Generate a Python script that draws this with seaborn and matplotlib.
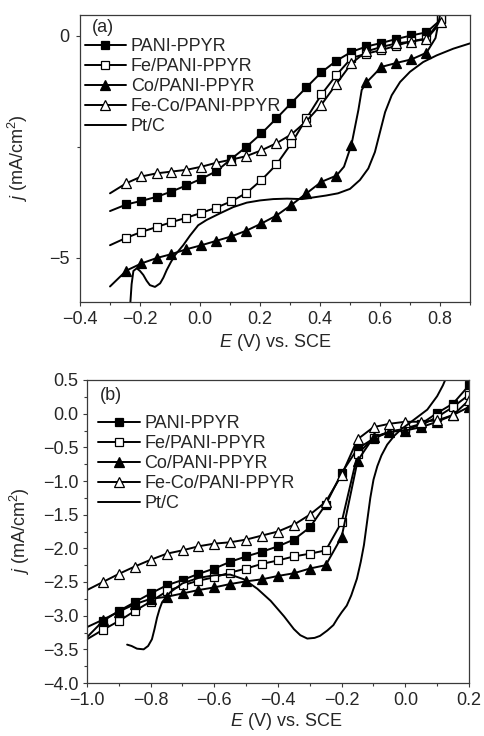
import numpy as np
import pandas as pd
import matplotlib
matplotlib.use("Agg")
import matplotlib.pyplot as plt
from matplotlib.ticker import MultipleLocator, FixedLocator, FuncFormatter
import seaborn as sns

# ---------------- panel (a) data ----------------
labels = ["PANI-PPYR", "Fe/PANI-PPYR", "Co/PANI-PPYR", "Fe-Co/PANI-PPYR", "Pt/C"]

a_grid = [-0.245, -0.195, -0.145, -0.095, -0.045, 0.005, 0.055, 0.105, 0.155,
          0.205, 0.255, 0.305, 0.355, 0.405, 0.455, 0.505, 0.555, 0.605,
          0.655, 0.705, 0.755, 0.805]

a_pani_E = [-0.30] + a_grid
a_pani_j = [-3.95, -3.80, -3.72, -3.63, -3.51, -3.37, -3.22, -3.05, -2.77, -2.50,
            -2.20, -1.86, -1.51, -1.16, -0.82, -0.56, -0.36, -0.24, -0.16,
            -0.07, 0.01, 0.08, 0.38]

a_fe_E = [-0.30] + a_grid
a_fe_j = [-4.72, -4.55, -4.42, -4.31, -4.20, -4.10, -3.99, -3.87, -3.73, -3.54,
          -3.25, -2.90, -2.42, -1.86, -1.32, -0.88, -0.50, -0.40, -0.32,
          -0.22, -0.12, -0.06, 0.38]

a_co_E = [-0.30, -0.245, -0.195, -0.145, -0.095, -0.045, 0.005, 0.055, 0.105,
          0.155, 0.205, 0.255, 0.305, 0.355, 0.405, 0.455, 0.48, 0.505, 0.528,
          0.539, 0.555, 0.605, 0.655, 0.705, 0.755, 0.785, 0.80]
a_co_j = [-5.65, -5.29, -5.13, -5.01, -4.92, -4.81, -4.72, -4.62, -4.52, -4.39,
          -4.23, -4.05, -3.81, -3.55, -3.29, -3.15, -2.95, -2.45, -1.67,
          -1.22, -1.05, -0.70, -0.61, -0.53, -0.38, -0.05, 0.47]

a_feco_E = [-0.30] + a_grid
a_feco_j = [-3.55, -3.32, -3.17, -3.10, -3.06, -3.02, -2.95, -2.86, -2.79, -2.71,
            -2.58, -2.42, -2.22, -1.92, -1.55, -1.08, -0.62, -0.35, -0.25,
            -0.17, -0.13, -0.07, 0.32]

a_pt_E = [-0.233, -0.228, -0.222, -0.211, -0.200, -0.189, -0.178, -0.167, -0.150,
          -0.133, -0.122, -0.111, -0.097, -0.083, -0.056, -0.033, -0.006, 0.022,
          0.067, 0.111, 0.156, 0.200, 0.244, 0.290, 0.340, 0.380, 0.420, 0.460,
          0.500, 0.533, 0.561, 0.583, 0.600, 0.617, 0.639, 0.667, 0.700, 0.744,
          0.789, 0.844, 0.900]
a_pt_j = [-6.10, -5.60, -5.30, -5.24, -5.30, -5.39, -5.52, -5.62, -5.66,
          -5.58, -5.45, -5.28, -5.10, -4.94, -4.72, -4.50, -4.27, -4.15,
          -4.00, -3.86, -3.76, -3.71, -3.68, -3.67, -3.68, -3.64, -3.60, -3.55,
          -3.45, -3.25, -2.99, -2.62, -2.17, -1.72, -1.34, -1.04, -0.81, -0.59,
          -0.44, -0.29, -0.17]

# ---------------- panel (b) data ----------------
b_grid = [-0.95, -0.90, -0.85, -0.80, -0.75, -0.70, -0.65, -0.60, -0.55, -0.50,
          -0.45, -0.40, -0.35, -0.30, -0.25, -0.20, -0.15, -0.10, -0.05, 0.00,
          0.05, 0.10, 0.15, 0.20]

b_pani_E = [-1.0] + b_grid
b_pani_j = [-3.32, -3.08, -2.93, -2.80, -2.67, -2.55, -2.47, -2.38, -2.30, -2.20,
            -2.12, -2.05, -1.97, -1.87, -1.69, -1.35, -0.88, -0.52, -0.37,
            -0.27, -0.22, -0.15, 0.01, 0.15, 0.42]

b_fe_E = [-1.0] + b_grid
b_fe_j = [-3.35, -3.21, -3.08, -2.93, -2.79, -2.64, -2.55, -2.48, -2.43, -2.36,
          -2.30, -2.23, -2.18, -2.12, -2.08, -2.03, -1.61, -0.60, -0.36,
          -0.27, -0.23, -0.17, -0.05, 0.10, 0.28]

b_co_E = [-1.0] + b_grid
b_co_j = [-3.17, -3.06, -2.94, -2.83, -2.75, -2.72, -2.67, -2.62, -2.58, -2.53,
          -2.49, -2.46, -2.41, -2.37, -2.30, -2.25, -1.83, -0.70, -0.35,
          -0.27, -0.25, -0.20, -0.12, -0.02, 0.10]

b_feco_E = [-1.0] + b_grid
b_feco_j = [-2.62, -2.50, -2.38, -2.27, -2.17, -2.08, -2.03, -1.97, -1.93, -1.91,
            -1.87, -1.81, -1.75, -1.65, -1.50, -1.31, -0.91, -0.38, -0.20,
            -0.15, -0.12, -0.12, -0.10, -0.02, 0.20]

b_pt_E = [-0.874, -0.860, -0.843, -0.822, -0.808, -0.796, -0.788, -0.780, -0.772,
          -0.764, -0.738, -0.700, -0.650, -0.600, -0.550, -0.507, -0.465, -0.423,
          -0.381, -0.350, -0.330, -0.308, -0.285, -0.268, -0.245, -0.226, -0.213,
          -0.200, -0.184, -0.170, -0.152, -0.140, -0.130, -0.120, -0.110, -0.100,
          -0.088, -0.075, -0.057, -0.035, -0.015, 0.027, 0.069, 0.100, 0.118,
          0.127]
b_pt_j = [-3.43, -3.45, -3.49, -3.50, -3.45, -3.35, -3.20, -3.03, -2.90,
          -2.80, -2.65, -2.52, -2.44, -2.40, -2.39, -2.46, -2.60, -2.78,
          -3.01, -3.20, -3.29, -3.34, -3.33, -3.30, -3.22, -3.14, -3.04,
          -2.95, -2.85, -2.70, -2.45, -2.20, -1.95, -1.60, -1.25, -0.98,
          -0.78, -0.62, -0.46, -0.33, -0.24, -0.09, 0.06, 0.26, 0.42,
          0.52]

# ---------------- styling ----------------
sns.set_style("ticks")
plt.rcParams["font.family"] = ["Liberation Sans", "DejaVu Sans"]
plt.rcParams["mathtext.fontset"] = "custom"
plt.rcParams["mathtext.rm"] = "Liberation Sans"
plt.rcParams["mathtext.it"] = "Liberation Sans:italic"

FS = 13
INK = "black"
SPINE = "#3a3a3a"

marker_styles = [
    dict(marker="s", markerfacecolor=INK, markersize=6.0),
    dict(marker="s", markerfacecolor="white", markersize=6.0),
    dict(marker="^", markerfacecolor=INK, markersize=7.0),
    dict(marker="^", markerfacecolor="white", markersize=7.0),
    dict(marker=None),
]


def minus_fmt(fmt):
    return FuncFormatter(lambda v, pos: (fmt % v).replace("-", "\u2212"))


def draw_series(ax, E, j, grid, style, label):
    E = np.asarray(E, float)
    j = np.asarray(j, float)
    df = pd.DataFrame({"E": E, "j": j})
    kw = dict(color=INK, lw=1.4, markeredgecolor=INK, markeredgewidth=0.9)
    if style.get("marker"):
        marked = np.isin(np.round(E, 3), np.round(np.asarray(grid), 3))
        kw["markevery"] = list(marked)
    kw.update(style)
    sns.lineplot(data=df, x="E", y="j", ax=ax, sort=False, estimator=None,
                 label=label, legend=False, **kw)


def style_axes(ax, ypad):
    for s in ax.spines.values():
        s.set_color(SPINE)
        s.set_linewidth(0.9)
    ax.tick_params(which="major", direction="out", length=3.2, width=0.8,
                   color=SPINE, labelsize=FS, pad=3.5)
    ax.tick_params(which="minor", direction="out", length=2.0, width=0.8,
                   color=SPINE)
    ax.tick_params(axis="y", which="major", pad=ypad)
    ax.set_xlabel(r"$E$ (V) vs. SCE", fontsize=FS)
    ax.set_ylabel(r"$j$ (mA/cm$^2$)", fontsize=FS)


def add_legend(ax, anchor):
    handles = ax.get_lines()[:5]
    ax.legend(handles, labels, loc="upper left", bbox_to_anchor=anchor,
              frameon=False, fontsize=FS, handlelength=2.3, handletextpad=0.25,
              labelspacing=0.17, borderpad=0, borderaxespad=0)


W, H = 485, 736
fig = plt.figure(figsize=(W / 100, H / 100), dpi=100)

# panel (a)
ax1 = fig.add_axes([80 / W, 1 - 302 / H, 390 / W, 287 / H])
series_a = [(a_pani_E, a_pani_j), (a_fe_E, a_fe_j), (a_co_E, a_co_j),
            (a_feco_E, a_feco_j), (a_pt_E, a_pt_j)]
for (E, j), st, lab in zip(series_a, marker_styles, labels):
    draw_series(ax1, E, j, a_grid, st, lab)
ax1.set_xlim(-0.4, 0.9)
ax1.set_ylim(-6.0, 0.47)
ax1.xaxis.set_major_locator(MultipleLocator(0.2))
ax1.xaxis.set_minor_locator(MultipleLocator(0.1))
ax1.yaxis.set_major_locator(FixedLocator([-5, 0]))
ax1.yaxis.set_minor_locator(FixedLocator([-2.5]))
ax1.xaxis.set_major_formatter(minus_fmt("%.1f"))
ax1.yaxis.set_major_formatter(minus_fmt("%d"))
style_axes(ax1, ypad=4.5)
ax1.xaxis.set_label_coords(0.5, -0.105)
ax1.yaxis.set_label_coords(-0.128, 0.5)
ax1.text(0.03, 0.958, "(a)", transform=ax1.transAxes, fontsize=FS,
         ha="left", va="center")
add_legend(ax1, (0.012, 0.92))

# panel (b)
ax2 = fig.add_axes([87 / W, 1 - 683 / H, 382 / W, 303 / H])
series_b = [(b_pani_E, b_pani_j), (b_fe_E, b_fe_j), (b_co_E, b_co_j),
            (b_feco_E, b_feco_j), (b_pt_E, b_pt_j)]
for (E, j), st, lab in zip(series_b, marker_styles, labels):
    draw_series(ax2, E, j, b_grid, st, lab)
ax2.set_xlim(-1.0, 0.2)
ax2.set_ylim(-4.0, 0.5)
ax2.xaxis.set_major_locator(MultipleLocator(0.2))
ax2.xaxis.set_minor_locator(MultipleLocator(0.1))
ax2.yaxis.set_major_locator(MultipleLocator(0.5))
ax2.yaxis.set_minor_locator(MultipleLocator(0.25))
ax2.xaxis.set_major_formatter(minus_fmt("%.1f"))
ax2.yaxis.set_major_formatter(minus_fmt("%.1f"))
style_axes(ax2, ypad=3)
ax2.xaxis.set_label_coords(0.52, -0.093)
ax2.yaxis.set_label_coords(-0.144, 0.5)
ax2.text(0.034, 0.95, "(b)", transform=ax2.transAxes, fontsize=FS,
         ha="left", va="center")
add_legend(ax2, (0.03, 0.885))

fig.savefig("out.png", dpi=100)
